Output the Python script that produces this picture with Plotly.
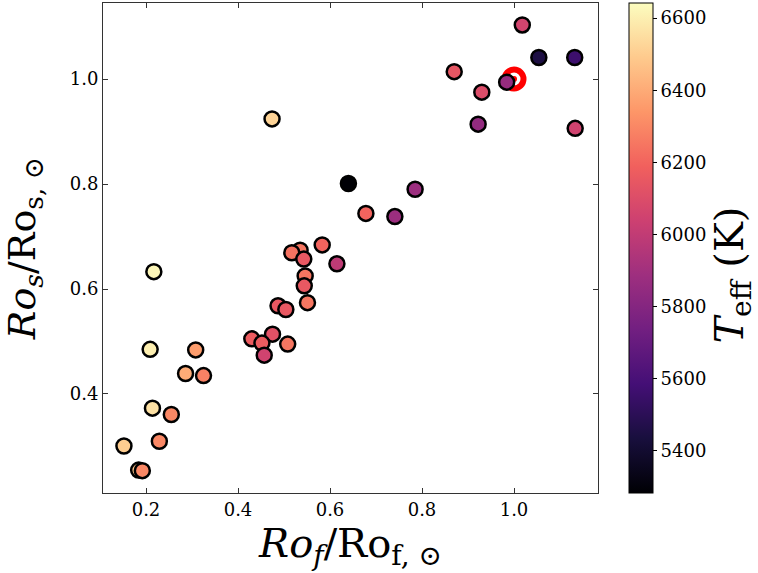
import plotly.graph_objects as go

# Data
ro_f = [1.018, 1.054, 1.132, 0.870, 0.984, 0.930, 0.474, 0.922, 1.133, 0.640,
        0.785, 0.678, 0.741, 0.583, 0.535, 0.517, 0.543, 0.615, 0.217, 0.546,
        0.544, 0.551, 0.487, 0.504, 0.475, 0.430, 0.452, 0.508, 0.457, 0.209,
        0.308, 0.286, 0.325, 0.214, 0.255, 0.229, 0.152, 0.184, 0.192]
ro_s = [1.103, 1.041, 1.041, 1.014, 0.994, 0.975, 0.924, 0.914, 0.906, 0.801,
        0.790, 0.744, 0.738, 0.684, 0.674, 0.669, 0.657, 0.648, 0.633, 0.625,
        0.606, 0.574, 0.568, 0.561, 0.514, 0.505, 0.497, 0.495, 0.474, 0.485,
        0.484, 0.439, 0.435, 0.373, 0.361, 0.310, 0.301, 0.255, 0.254]
teff = [6060, 5450, 5560, 6140, 5860, 6100, 6520, 5850, 6050, 5285,
        5880, 6200, 5880, 6200, 6250, 6240, 6150, 5990, 6620, 6250,
        6150, 6250, 6150, 6150, 6120, 6170, 6170, 6250, 6050, 6600,
        6360, 6400, 6280, 6560, 6300, 6300, 6500, 6480, 6300]
sun_x = [1.0]
sun_y = [1.0]

fig = go.Figure()

# Sun symbol (ring + centre dot), drawn beneath the stars
fig.add_trace(go.Scatter(x=sun_x, y=sun_y, mode="markers",
                         marker=dict(symbol="circle", size=19, color="white",
                                     line=dict(color="red", width=6)),
                         showlegend=False, hoverinfo="skip"))
fig.add_trace(go.Scatter(x=sun_x, y=sun_y, mode="markers",
                         marker=dict(symbol="circle", size=6, color="red"),
                         showlegend=False, hoverinfo="skip"))

fig.add_trace(go.Scatter(
    x=ro_f, y=ro_s, mode="markers", showlegend=False,
    marker=dict(size=15, color=teff, colorscale="Magma", cmin=5283, cmax=6642,
                line=dict(color="black", width=2.5),
                colorbar=dict(
                    x=1.0626, xanchor="left", y=0.5, yanchor="middle",
                    len=1, lenmode="fraction", thickness=24, thicknessmode="pixels",
                    xpad=0, ypad=0,
                    outlinecolor="black", outlinewidth=1,
                    tickvals=[5400, 5600, 5800, 6000, 6200, 6400, 6600],
                    ticks="outside", ticklen=4, tickcolor="black",
                    tickfont=dict(family="DejaVu Serif", size=18, color="black"),
                ))))

# Colorbar label
fig.add_annotation(text="<i>T</i><sub>eff</sub> (K)", textangle=-90,
                   xref="paper", yref="paper", x=1.270, y=0.445,
                   xanchor="center", yanchor="middle", showarrow=False,
                   font=dict(family="DejaVu Serif", size=40, color="black"))

axis_common = dict(showline=True, linecolor="#333", linewidth=1, mirror="allticks",
                   ticks="inside", ticklen=5, tickcolor="#333", showgrid=False,
                   zeroline=False, automargin=False,
                   tickfont=dict(family="DejaVu Serif", size=18, color="black"))

fig.update_xaxes(range=[0.1065, 1.1826], tickvals=[0.2, 0.4, 0.6, 0.8, 1.0],
                 ticktext=["0.2", "0.4", "0.6", "0.8", "1.0"],
                 title=dict(text="<i>Ro</i><sub><i>f</i></sub>/Ro<sub>f, ⊙</sub>",
                            font=dict(family="DejaVu Serif", size=40, color="black"),
                            standoff=4),
                 **axis_common)
fig.update_yaxes(range=[0.2114, 1.1448], tickvals=[0.4, 0.6, 0.8, 1.0],
                 ticktext=["0.4", "0.6", "0.8", "1.0"],
                 title=dict(text="<i>Ro</i><sub><i>s</i></sub>/Ro<sub>s, ⊙</sub>",
                            font=dict(family="DejaVu Serif", size=38, color="black"),
                            standoff=22),
                 **axis_common)

fig.update_layout(width=758, height=573, plot_bgcolor="white", paper_bgcolor="white",
                  margin=dict(l=103, r=160, t=3, b=80, autoexpand=False))

fig.write_html("out.html", config={"displayModeBar": False},
               post_script="document.body.style.margin='0px';document.body.style.overflow='hidden';")
